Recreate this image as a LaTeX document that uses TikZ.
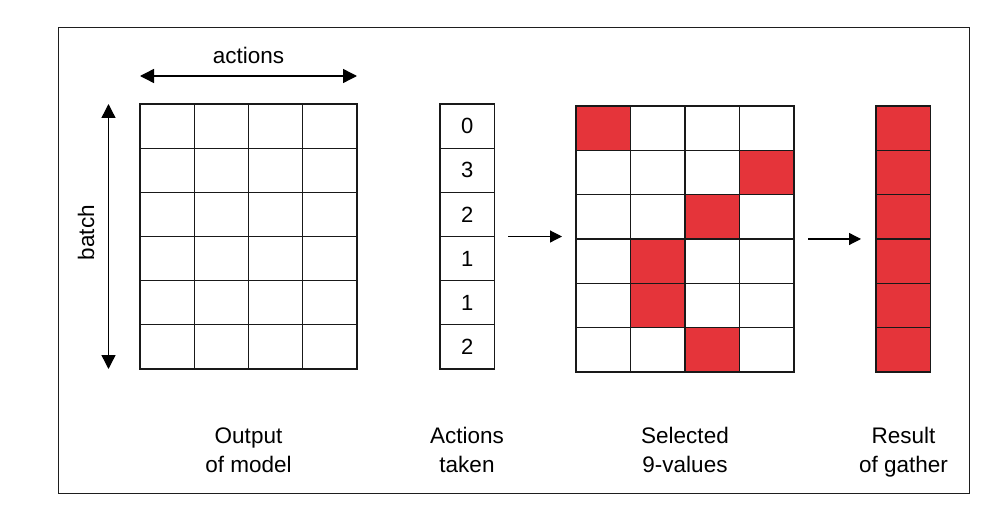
\documentclass[tikz,border=0pt]{standalone}
\usepackage{fontspec}
\setmainfont{Liberation Sans}
\usetikzlibrary{arrows.meta}
\definecolor{selred}{RGB}{229,52,58}
\definecolor{framegray}{RGB}{30,30,30}
\begin{document}
\begin{tikzpicture}[x=1pt,y=-1pt,
  cellA/.style={draw=black!90, line width=1.25pt, rectangle, inner sep=0pt, outer sep=0pt,
    anchor=north west, minimum width=54.25pt, minimum height=44.17pt},
  cellB/.style={cellA, minimum width=54.5pt, minimum height=44.33pt},
  picked/.style={fill=selred},
  digit/.style={font=\fontsize{22}{24}\selectfont},
  caption/.style={font=\fontsize{22.5}{29}\selectfont, align=center, anchor=base},
  flow/.style={line width=1.2pt, -{Triangle[length=12pt,width=12pt]}},
  span/.style={line width=1.4pt, {Triangle[length=14pt,width=14pt]}-{Triangle[length=14pt,width=14pt]}}]

% canvas and frame
\useasboundingbox (0,0) rectangle (1004,532);
\fill[white] (0,0) rectangle (1004,532);
\draw[framegray, line width=1pt] (58,28) rectangle (969,493);

% output of the model: 6 x 4 grid
\foreach \r in {0,...,5}
  \foreach \c in {0,...,3}
    \node[cellA] (o-\r-\c) at (140+54.25*\c, 104+44.17*\r) {};

% axis arrows with labels
\coordinate (actL) at (140,76);
\coordinate (actR) at (357,76);
\draw[span] (actL) -- (actR);
\node[font=\fontsize{22.5}{24}\selectfont, anchor=base] (actlbl) at (248.5,64) {actions};

\coordinate (batT) at (108.5,104);
\coordinate (batB) at (108.5,369);
\draw[span] (batT) -- (batB);
\node[font=\fontsize{22.5}{24}\selectfont, rotate=90, anchor=base] (batlbl) at (94,232.5) {batch};

% actions taken
\foreach \v [count=\i from 0] in {0,3,2,1,1,2}
  \node[cellA, digit] (a-\i) at (440, 104+44.17*\i) {\v};

% selected values: 6 x 4 grid with the chosen action highlighted
\foreach \r/\sel in {0/0,1/3,2/2,3/1,4/1,5/2}
  \foreach \c in {0,...,3}{
    \ifnum\c=\sel
      \node[cellB, picked] (s-\r-\c) at (576+54.5*\c, 106+44.33*\r) {};
    \else
      \node[cellB] (s-\r-\c) at (576+54.5*\c, 106+44.33*\r) {};
    \fi
  }

% result of gather
\foreach \r in {0,...,5}
  \node[cellB, picked] (g-\r) at (876, 106+44.33*\r) {};

% flow arrows
\draw[flow, shorten <=14pt, shorten >=14pt] (a-2.south east) -- (a-2.south east -| s-2-0.south west);
\draw[flow, shorten <=14pt, shorten >=15pt] (s-2-3.south east) -- (s-2-3.south east -| g-2.south west);

% captions (base anchor sits on the second line)
\node[caption] (cap1) at (248.5,472) {Output\\of model};
\node[caption] (cap2) at (467,472) {Actions\\taken};
\node[caption] (cap3) at (685,472) {Selected\\9-values};
\node[caption] (cap4) at (903.5,472) {Result\\of gather};
\end{tikzpicture}
\end{document}
